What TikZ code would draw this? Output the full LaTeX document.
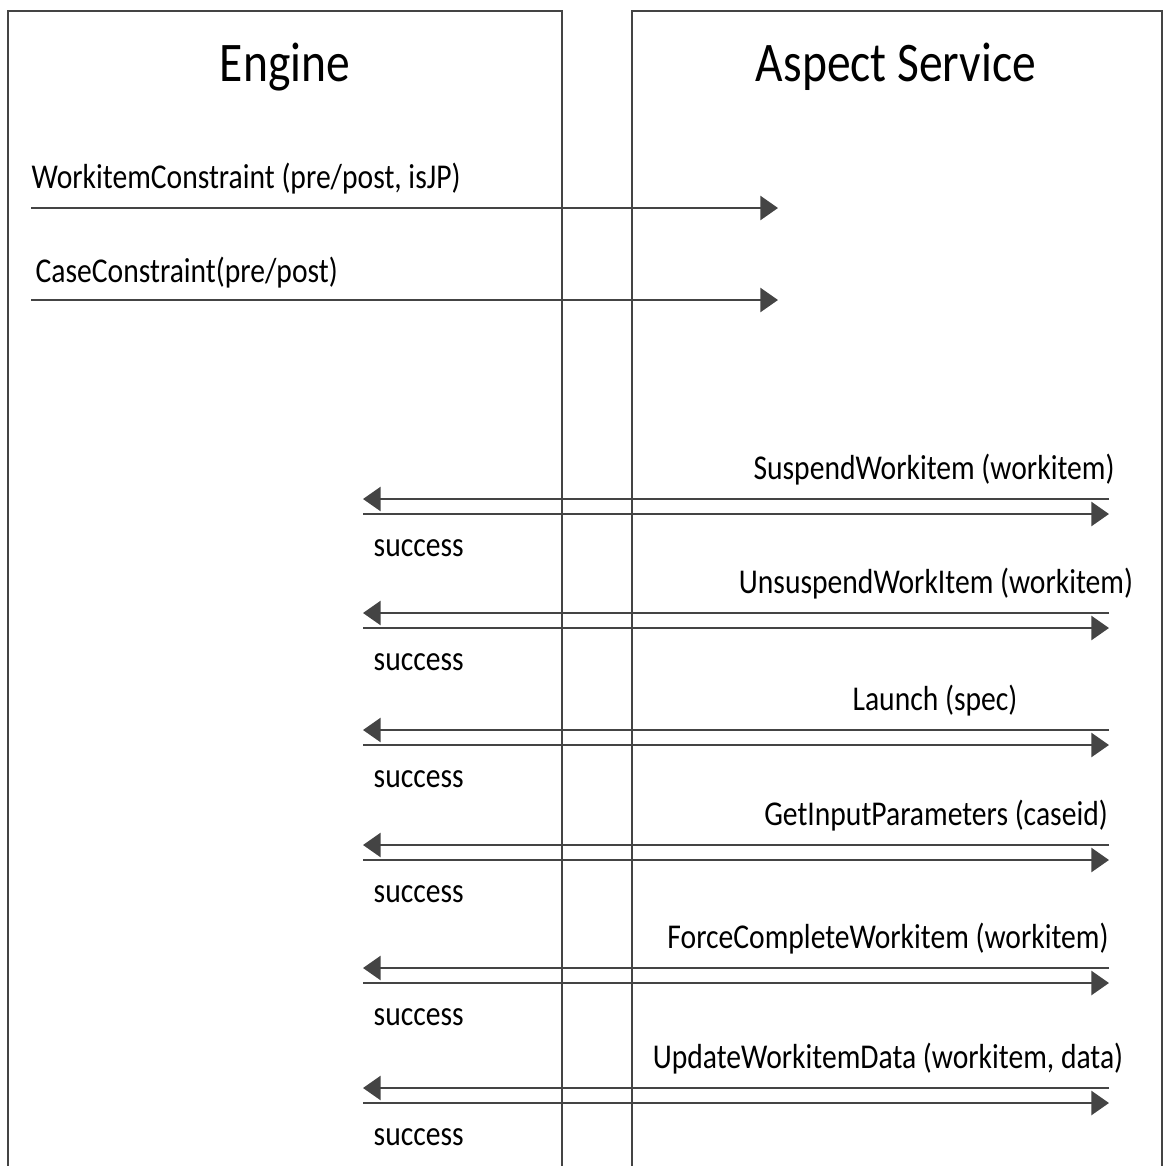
\documentclass[tikz,border=0pt]{standalone}
\usepackage{fontspec}
\setmainfont{Carlito}[FakeStretch=0.85]
\usetikzlibrary{arrows.meta}
\definecolor{linegray}{HTML}{444444}
\tikzset{
    lane/.style={draw=linegray, line width=0.75pt},
    msg/.style={-{Triangle[length=5pt, width=6.8pt]}, line width=0.75pt, linegray},
    lanetitle/.style={font=\fontsize{15.9}{18}\selectfont, anchor=base, inner sep=0pt},
    msglabel/.style={font=\fontsize{9.9}{11}\selectfont, anchor=base, inner sep=0pt}
}

\begin{document}
\begin{tikzpicture}[x=0.01cm, y=-0.01cm]
    \useasboundingbox (0,0) rectangle (1163,1166);
    % Lanes
    \draw[lane] (8,1166) |- (562,11) -- (562,1166);
    \draw[lane] (632,1166) |- (1162,11) -- (1162,1166);
    \node[lanetitle] (engine) at (285,81) {Engine};
    \node[lanetitle] (aspect) at (896,81) {Aspect Service};

    % Constraint calls
    \coordinate (wc0) at (31,208); \coordinate (wc1) at (778,208);
    \draw[msg] (wc0) -- (wc1);
    \node[msglabel, anchor=base west] (wclab) at (31,188) {WorkitemConstraint (pre/post, isJP)};
    \coordinate (cc0) at (31,300); \coordinate (cc1) at (778,300);
    \draw[msg] (cc0) -- (cc1);
    \node[msglabel, anchor=base west] (cclab) at (35,282) {CaseConstraint(pre/post)};

    % Service calls with their replies
    \foreach \y/\cx/\txt [count=\i] in {499/934/{SuspendWorkitem (workitem)},
            613/936/{UnsuspendWorkItem (workitem)}, 730/935/{Launch (spec)},
            845/936/{GetInputParameters (caseid)}, 968/888/{ForceCompleteWorkitem (workitem)},
            1088/888/{UpdateWorkitemData (workitem, data)}} {
        \coordinate (s\i) at (1109,\y); \coordinate (e\i) at (363,\y);
        \coordinate (r\i) at (363,\y+15); \coordinate (t\i) at (1109,\y+15);
        \draw[msg] (s\i) -- (e\i);
        \draw[msg] (r\i) -- (t\i);
        \node[msglabel] (call\i) at (\cx,\y-20) {\txt};
        \node[msglabel, anchor=base west] (ok\i) at (373,\y+57) {success};
    }
\end{tikzpicture}
\end{document}
